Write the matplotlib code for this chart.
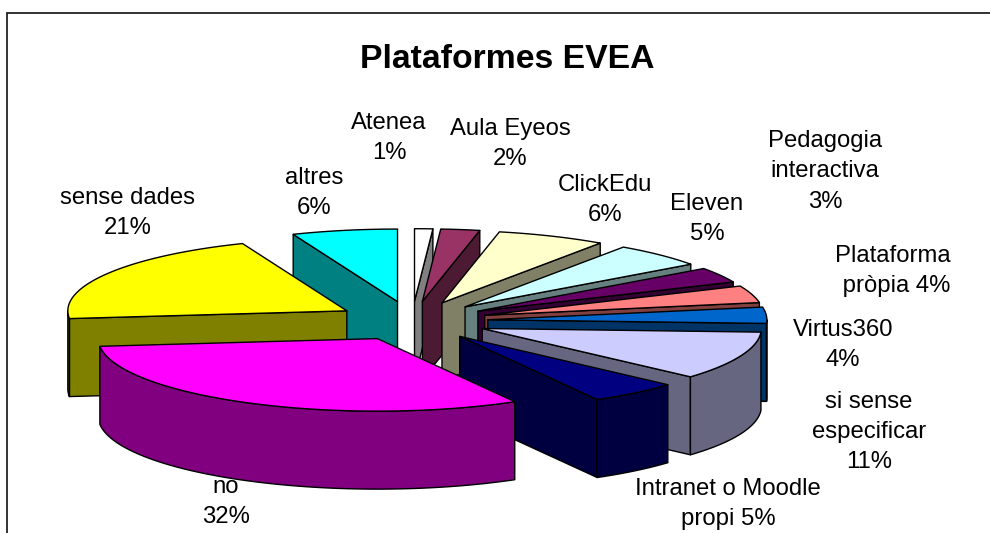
import numpy as np
import matplotlib
matplotlib.use('Agg')
import matplotlib.pyplot as plt
from matplotlib.patches import Polygon

plt.rcParams['font.family'] = ['Liberation Sans', 'DejaVu Sans']

# valors llegits del grafic (percentatges aproximats, comencant a dalt i en sentit horari)
names = ['Atenea\n', 'Aula Eyeos\n', 'ClickEdu\n', 'Eleven\n', 'Pedagogia\ninteractiva\n', 'Plataforma\n pròpia ',
         'Virtus360\n', 'si sense\nespecificar\n', 'Intranet o Moodle\npropi ', 'no\n', 'sense dades\n', 'altres\n']
values = [1.05, 2.25, 6.3, 5.4, 3.4, 3.8, 3.6, 10.8, 5.2, 31.5, 20.6, 6.1]
top_colors = ['#FFFFFF', '#993366', '#FFFFCC', '#CCFFFF', '#660066', '#FF8080',
              '#0066CC', '#CCCCFF', '#000080', '#FF00FF', '#FFFF00', '#00FFFF']
wall_colors = ['#808080', '#4D1A33', '#808066', '#668080', '#330033', '#804040',
               '#003366', '#666680', '#000040', '#800080', '#808000', '#008080']
label_x = [389, 510, 605, 707, 825, 893, 843, 869, 728, 226, 128, 314]
label_y = [138, 144, 200, 219, 171, 271, 345, 432, 504, 502, 213, 193]

# geometria de la "tarta" en pixels
cx, cy = 412, 321
radius = 279
explode = 76
squash = 0.26
wall = 78

fig = plt.figure(figsize=(9.9, 5.33), dpi=100)
ax = fig.add_axes([0, 0, 1, 1])
ax.set_xlim(0, 990)
ax.set_ylim(533, 0)
ax.axis('off')

# la vora nomes es veu a dalt i a l'esquerra
ax.plot([6.5, 6.5, 990], [533, 13, 13], color='#222222', lw=1.3, solid_joinstyle='miter', zorder=1)


def to_screen(angle, r, ox, oy):
    return ox + r * np.sin(angle), oy - squash * r * np.cos(angle)


def add_poly(xs, ys, color, z):
    ax.add_patch(Polygon(np.column_stack([xs, ys]), closed=True, fc=color, ec='black', lw=1, joinstyle='round', zorder=z))


edges = np.radians(np.cumsum([0] + values) / np.sum(values) * 360)
for i in range(len(values)):
    a, b = edges[i], edges[i + 1]
    mid = (a + b) / 2
    ox, oy = to_screen(mid, explode, cx, cy)
    z = 10 + 5 * (1 - np.cos(mid))  # primer les del fons

    # cara radial d'inici
    if np.sin(a) < 0:
        x1, y1 = to_screen(a, radius, ox, oy)
        add_poly([ox, x1, x1, ox], [oy, y1, y1 + wall, oy + wall], wall_colors[i], z)
    # cara radial final
    if np.sin(b) > 0:
        x1, y1 = to_screen(b, radius, ox, oy)
        add_poly([ox, x1, x1, ox], [oy, y1, y1 + wall, oy + wall], wall_colors[i], z)
    # paret exterior, nomes la part de davant
    lo, hi = max(a, np.pi / 2), min(b, 3 * np.pi / 2)
    if hi > lo:
        t = np.linspace(lo, hi, 80)
        xa, ya = to_screen(t, radius, ox, oy)
        add_poly(np.r_[xa, xa[::-1]], np.r_[ya, ya[::-1] + wall], wall_colors[i], z + 0.01)
    # cara de dalt
    t = np.linspace(a, b, 80)
    xa, ya = to_screen(t, radius, ox, oy)
    add_poly(np.r_[ox, xa], np.r_[oy, ya], top_colors[i], z + 0.02)

    ax.text(label_x[i], label_y[i], f'{names[i]}{values[i]:.0f}%', ha='center', va='center',
            fontsize=17.2, linespacing=1.5, color='black', zorder=40)

ax.text(507, 59, 'Plataformes EVEA', ha='center', va='center', fontsize=24.3, fontweight='bold', zorder=40)

fig.savefig('out.png', dpi=100)
